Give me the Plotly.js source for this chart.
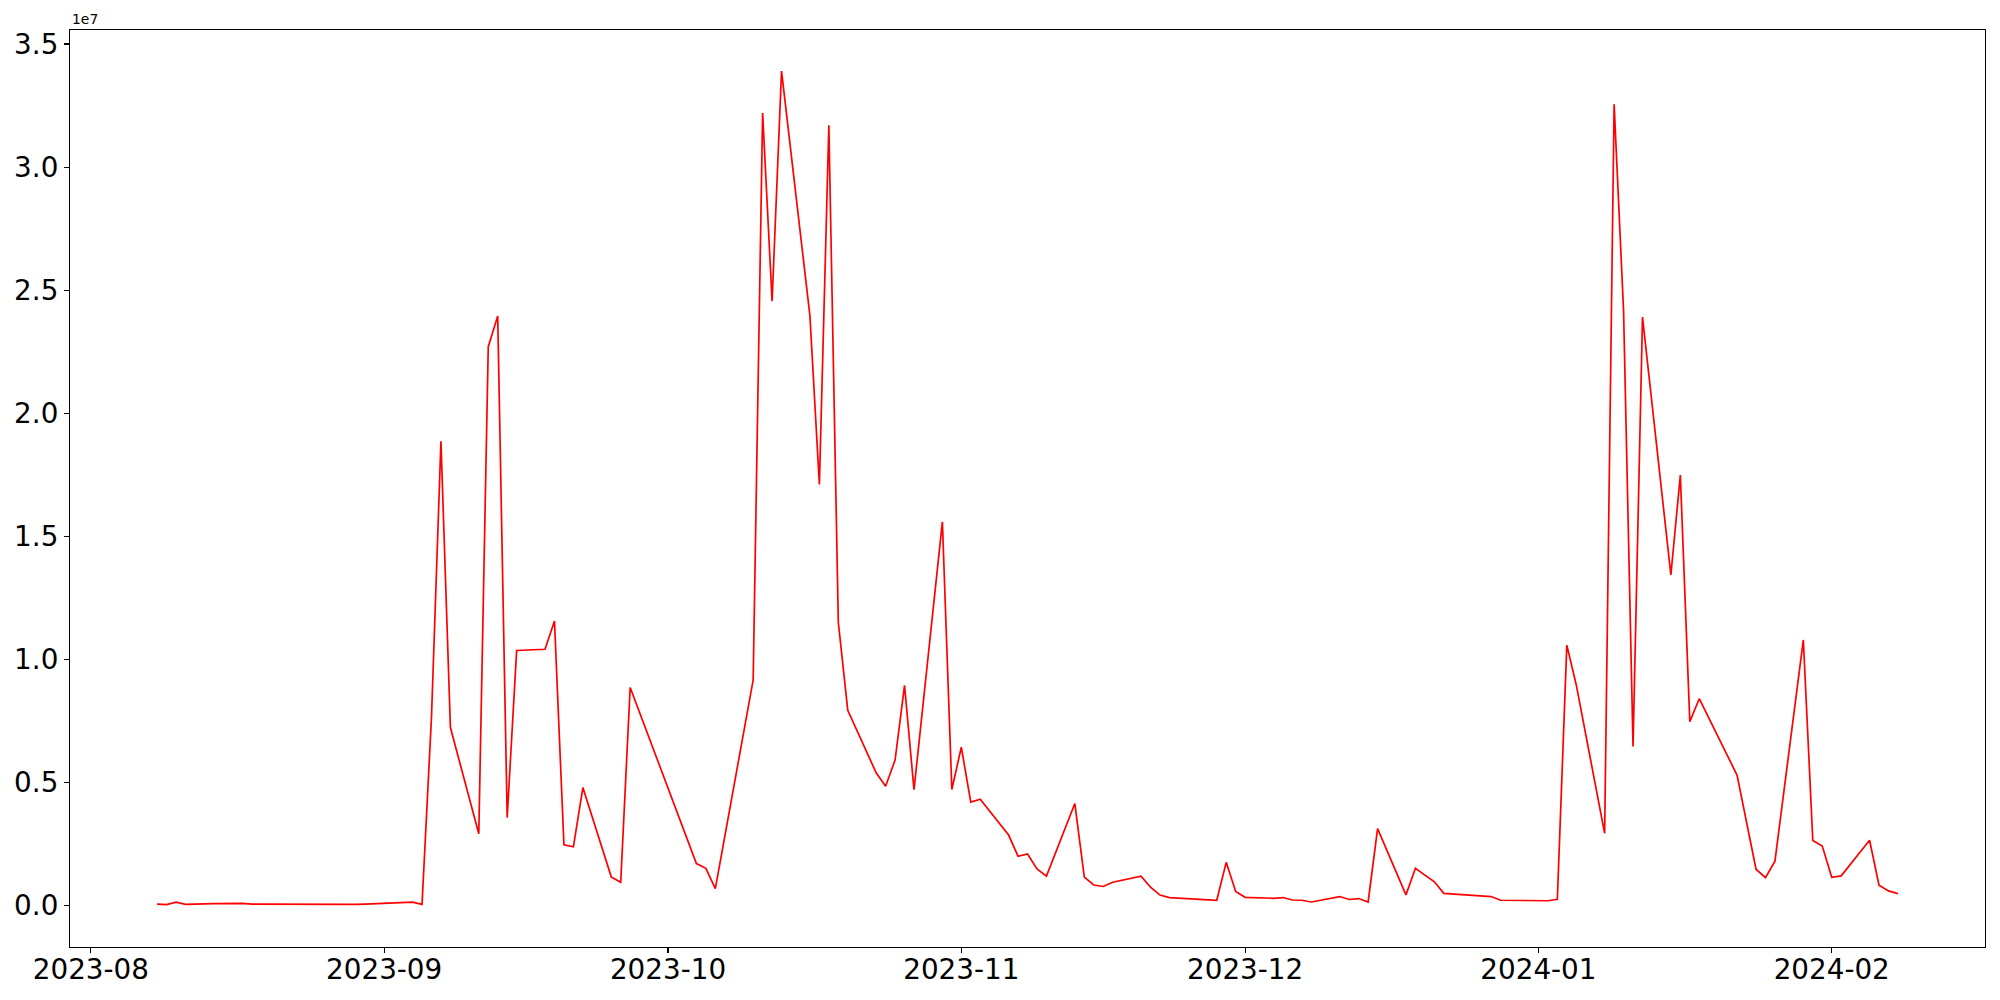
<!DOCTYPE html>
<html>
<head>
<meta charset="utf-8">
<script src="https://cdn.plot.ly/plotly-3.0.1.min.js"></script>
<style>
  html, body { margin: 0; padding: 0; background: #ffffff; }
  #chart { width: 2000px; height: 1000px; }
</style>
</head>
<body>
<div id="chart"></div>
<script>
// Dates of each observation
const dates = [
  "2023-08-08","2023-08-09","2023-08-10","2023-08-11","2023-08-14","2023-08-15","2023-08-16","2023-08-17","2023-08-18",
  "2023-08-21","2023-08-22","2023-08-23","2023-08-24","2023-08-25","2023-08-28","2023-08-29","2023-08-30","2023-08-31",
  "2023-09-01","2023-09-04","2023-09-05","2023-09-06","2023-09-07","2023-09-08","2023-09-11","2023-09-12","2023-09-13",
  "2023-09-14","2023-09-15","2023-09-18","2023-09-19","2023-09-20","2023-09-21","2023-09-22","2023-09-25","2023-09-26",
  "2023-09-27","2023-10-04","2023-10-05","2023-10-06","2023-10-10","2023-10-11","2023-10-12","2023-10-13","2023-10-16",
  "2023-10-17","2023-10-18","2023-10-19","2023-10-20","2023-10-23","2023-10-24","2023-10-25","2023-10-26","2023-10-27",
  "2023-10-30","2023-10-31","2023-11-01","2023-11-02","2023-11-03","2023-11-06","2023-11-07","2023-11-08","2023-11-09",
  "2023-11-10","2023-11-13","2023-11-14","2023-11-15","2023-11-16","2023-11-17","2023-11-20","2023-11-21","2023-11-22",
  "2023-11-23","2023-11-24","2023-11-27","2023-11-28","2023-11-29","2023-11-30","2023-12-01","2023-12-04","2023-12-05",
  "2023-12-06","2023-12-07","2023-12-08","2023-12-11","2023-12-12","2023-12-13","2023-12-14","2023-12-15","2023-12-18",
  "2023-12-19","2023-12-20","2023-12-21","2023-12-22","2023-12-27","2023-12-28","2023-12-29","2024-01-02","2024-01-03",
  "2024-01-04","2024-01-05","2024-01-08","2024-01-09","2024-01-10","2024-01-11","2024-01-12","2024-01-15","2024-01-16",
  "2024-01-17","2024-01-18","2024-01-22","2024-01-23","2024-01-24","2024-01-25","2024-01-26","2024-01-29","2024-01-30",
  "2024-01-31","2024-02-01","2024-02-02","2024-02-05","2024-02-06","2024-02-07","2024-02-08"
];

// Series values (raw units; axis shows them scaled by 1e7)
const values = [
  40000, 20000, 120000, 30000, 60000, 70000, 70000, 70000, 40000,
  30000, 30000, 30000, 30000, 20000, 30000, 30000, 40000, 50000,
  60000, 120000, 30000, 7650000, 18850000, 7220000, 2900000, 22700000, 23950000,
  3560000, 10350000, 10400000, 11550000, 2450000, 2370000, 4780000, 1150000, 930000,
  8850000, 1690000, 1500000, 670000, 9150000, 32200000, 24550000, 33900000, 23950000,
  17100000, 31700000, 11500000, 7920000, 5380000, 4830000, 5900000, 8930000, 4690000,
  15580000, 4700000, 6420000, 4190000, 4310000, 2850000, 1990000, 2080000, 1470000,
  1180000, 4130000, 1140000, 820000, 760000, 930000, 1180000, 730000, 410000,
  310000, 290000, 250000, 200000, 1740000, 560000, 320000, 280000, 310000,
  210000, 200000, 130000, 350000, 230000, 270000, 130000, 3110000, 420000,
  1500000, 1230000, 950000, 480000, 350000, 200000, 200000, 180000, 240000,
  10570000, 8950000, 2920000, 32550000, 24150000, 6450000, 23900000, 13420000, 17480000,
  7460000, 8390000, 5280000, 3380000, 1460000, 1120000, 1790000, 10780000, 2630000,
  2400000, 1130000, 1190000, 2640000, 810000, 580000, 470000
];

// Tick definitions
const xTickVals = ["2023-08-01","2023-09-01","2023-10-01","2023-11-01","2023-12-01","2024-01-01","2024-02-01"];
const xTickText = ["2023-08","2023-09","2023-10","2023-11","2023-12","2024-01","2024-02"];
const yTickVals = [0, 5000000, 10000000, 15000000, 20000000, 25000000, 30000000, 35000000];
const yTickText = ["0.0","0.5","1.0","1.5","2.0","2.5","3.0","3.5"];
const offsetText = "1e7";

const trace = {
  x: dates,
  y: values,
  type: "scatter",
  mode: "lines",
  line: { color: "#ff0000", width: 1.7 },
  hoverinfo: "x+y"
};

const font = { family: "DejaVu Sans, sans-serif", color: "#000000" };

const layout = {
  width: 2000,
  height: 1000,
  paper_bgcolor: "#ffffff",
  plot_bgcolor: "#ffffff",
  showlegend: false,
  margin: { l: 70, r: 15, t: 30, b: 53, pad: 0 },
  font: font,
  xaxis: {
    type: "date",
    range: ["2023-07-29 19:00", "2024-02-17 04:50"],
    tickmode: "array",
    tickvals: xTickVals,
    ticktext: xTickText,
    ticks: "outside",
    ticklen: 5,
    tickwidth: 1.1,
    tickcolor: "#000000",
    ticklabelstandoff: -7,
    showline: true,
    linecolor: "#000000",
    linewidth: 1.1,
    mirror: true,
    showgrid: false,
    zeroline: false,
    tickfont: { family: "DejaVu Sans, sans-serif", size: 27.8, color: "#000000" }
  },
  yaxis: {
    range: [-1700000, 35570000],
    tickmode: "array",
    tickvals: yTickVals,
    ticktext: yTickText,
    ticks: "outside",
    ticklen: 5,
    tickwidth: 1.1,
    tickcolor: "#000000",
    showline: true,
    linecolor: "#000000",
    linewidth: 1.1,
    mirror: true,
    showgrid: false,
    zeroline: false,
    tickfont: { family: "DejaVu Sans, sans-serif", size: 27.8, color: "#000000" }
  },
  annotations: [{
    text: offsetText,
    xref: "paper", yref: "paper",
    x: 0, y: 1,
    xanchor: "left", yanchor: "bottom",
    showarrow: false,
    yshift: 1,
    font: { family: "DejaVu Sans, sans-serif", size: 13.9, color: "#000000" }
  }]
};

Plotly.newPlot("chart", [trace], layout, { displayModeBar: false, staticPlot: true });
</script>
</body>
</html>
